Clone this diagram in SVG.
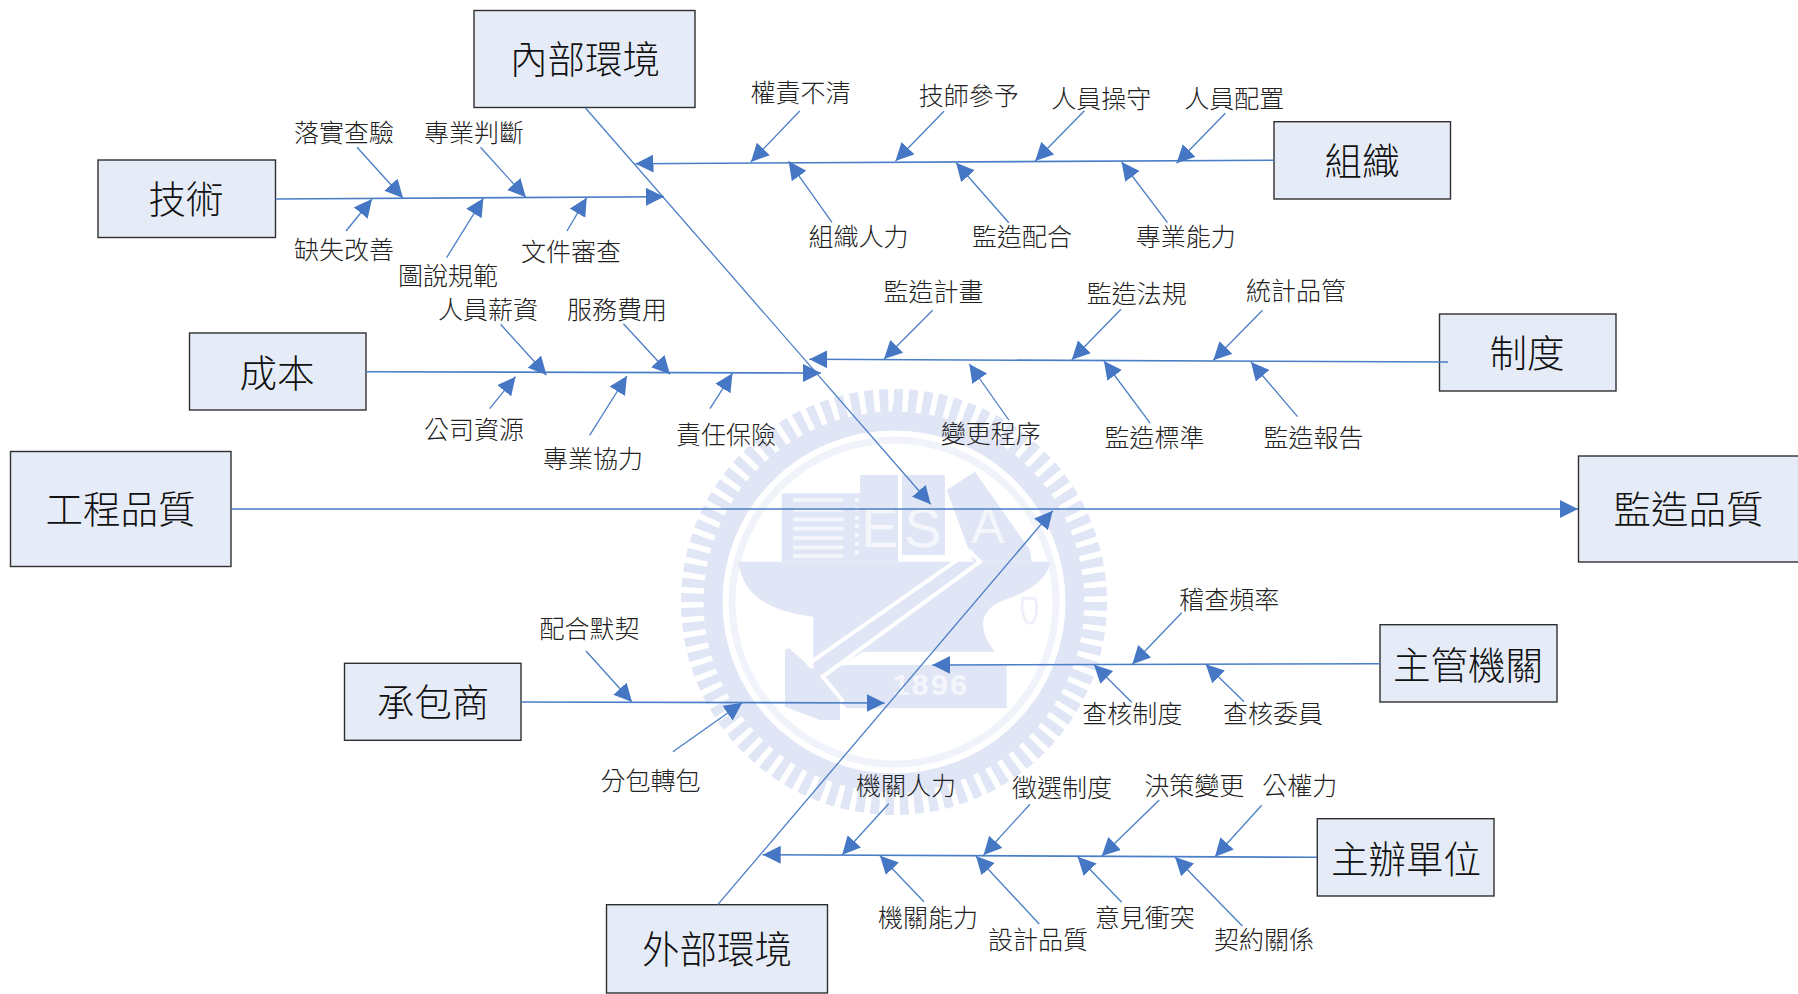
<svg xmlns="http://www.w3.org/2000/svg" width="1798" height="994" viewBox="0 0 1798 994">
<style>
.box{fill:#e6ecf7;stroke:#2f2f2f;stroke-width:1.4}
.n{font-family:"Noto Sans CJK TC","Noto Sans CJK SC",sans-serif;font-size:37.5px;fill:#111;text-anchor:middle;dominant-baseline:central;font-weight:300}
.t{font-family:"Noto Sans CJK TC","Noto Sans CJK SC",sans-serif;font-size:25px;fill:#222;text-anchor:middle;dominant-baseline:central;font-weight:300}
.m{fill:none;stroke:#4a7ec6;stroke-width:1.6;marker-end:url(#a)}
.r{fill:none;stroke:#4a7ec6;stroke-width:1.3;marker-end:url(#a)}
.w{fill:#e1e6f6}
.wl{fill:none;stroke:#fff;stroke-width:12}
.wt{font-family:"Liberation Sans",sans-serif;fill:#f4f6fc;text-anchor:middle}
</style>
<defs>
<marker id="a" markerUnits="userSpaceOnUse" markerWidth="20" markerHeight="20" refX="18" refY="9" orient="auto"><path d="M0,0L18,9L0,18Z" fill="#4677c4"/></marker>
</defs>
<rect width="1798" height="994" fill="#fff"/>
<g id="watermark">
<circle cx="894" cy="602" r="201" fill="none" stroke="#e1e6f6" stroke-width="24" pathLength="176" stroke-dasharray="1.2 .8"/>
<circle cx="894" cy="602" r="181" fill="none" stroke="#e1e6f6" stroke-width="19"/>
<circle cx="894" cy="602" r="162" fill="none" stroke="#f1f3fb" stroke-width="7"/>
<g transform="translate(730 460) scale(.3333)">
<rect class="w" x="155" y="100" width="190" height="205"/>
<path class="w" d="M345,305V100H390V45H505V305Z"/>
<rect class="w" x="515" y="45" width="130" height="240"/>
<path class="w" d="M650,90L735,35L900,270L905,305H730Z"/>
<path class="w" d="M25,305H960C950,370 880,400 800,430C760,455 735,500 795,575H400L250,660V470C100,450 40,400 25,305Z"/>
<path class="w" d="M165,570L185,560L240,625L355,615H830V745H350L330,720V780H270L165,740Z"/>
<path d="M190,120H340M190,150H340M190,178H340M190,206H340M190,234H340M190,262H340M190,288H340" fill="none" stroke="#f4f6fc" stroke-width="11"/>
<path d="M381,115V295" fill="none" stroke="#f4f6fc" stroke-width="12" stroke-dasharray="12 14"/>
<path d="M510,45V295H625" fill="none" stroke="#fff" stroke-width="11"/>
<path class="wl" d="M715,270L750,305L278,650L340,725"/>
<path class="wl" d="M718,275L238,610L175,555"/>
<path d="M880,415C870,440 880,490 900,490C920,490 925,440 915,415Z" fill="none" stroke="#eef1fa" stroke-width="9"/>
</g>
<text class="wt" x="880" y="547" font-size="56">E</text>
<text class="wt" x="923" y="547" font-size="56">S</text>
<text class="wt" x="988" y="543" font-size="50">A</text>
<text class="wt" x="931" y="695" font-size="30" font-weight="700" letter-spacing="2.5">1896</text>
</g>
<g id="n1"><rect class="box" x="474" y="10.5" width="221" height="97"/><text class="n" x="585" y="56">內部環境</text></g>
<g id="n2"><rect class="box" x="98" y="160" width="177.500" height="77.500"/><text class="n" x="186" y="196">技術</text></g>
<g id="n3"><rect class="box" x="189.500" y="333" width="176.500" height="77"/><text class="n" x="277" y="370">成本</text></g>
<g id="n4"><rect class="box" x="10.500" y="451.500" width="220.500" height="115"/><text class="n" x="120.500" y="506">工程品質</text></g>
<g id="n5"><rect class="box" x="1578.500" y="456" width="225" height="106"/><text class="n" x="1688.500" y="506">監造品質</text></g>
<g id="n6"><rect class="box" x="1274" y="121.700" width="176.500" height="77.300"/><text class="n" x="1362" y="158">組織</text></g>
<g id="n7"><rect class="box" x="1439.500" y="314" width="176.500" height="77"/><text class="n" x="1527" y="350">制度</text></g>
<g id="n8"><rect class="box" x="344.500" y="663.300" width="176.500" height="77"/><text class="n" x="433" y="699">承包商</text></g>
<g id="n9"><rect class="box" x="606.500" y="904.700" width="221" height="88.300"/><text class="n" x="717" y="946">外部環境</text></g>
<g id="n10"><rect class="box" x="1380" y="624.700" width="177" height="77.300"/><text class="n" x="1468" y="662">主管機關</text></g>
<g id="n11"><rect class="box" x="1317.300" y="818.700" width="176.700" height="77.300"/><text class="n" x="1406" y="856">主辦單位</text></g>
<g id="connectors">
<path class="m" d="M231,509H1578"/>
<path class="r" d="M585.5,108L930.7,504.3"/>
<path class="r" d="M717.8,904.7L1052.7,510.7"/>
<path class="m" d="M275.5,199L664,196.7"/>
<path class="m" d="M1274,160.3L635.5,163.7"/>
<path class="m" d="M366,371.7L821,373"/>
<path class="m" d="M1448,362L809.4,359.3"/>
<path class="m" d="M521,702L884.6,703"/>
<path class="m" d="M1380,663.7L932.3,665"/>
<path class="m" d="M1317,857.3L762.7,854.7"/>
<path class="r" d="M357,147.3L403,198"/>
<path class="r" d="M480.5,147.3L525.8,197.3"/>
<path class="r" d="M346,231L372,199"/>
<path class="r" d="M446.6,257.7L483.4,198.3"/>
<path class="r" d="M567,231L586.7,197.7"/>
<path class="r" d="M799.7,111L750.9,162"/>
<path class="r" d="M832,222.3L788.7,161.3"/>
<path class="r" d="M500.6,324.3L546.5,375"/>
<path class="r" d="M623.4,323.7L670,374.3"/>
<path class="r" d="M489.7,408.7L515.5,376.7"/>
<path class="r" d="M589.6,435.3L626.9,376"/>
<path class="r" d="M710,408.7L732.5,373.3"/>
<path class="r" d="M944,111.3L895.5,161"/>
<path class="r" d="M1084.4,110.7L1035.2,161"/>
<path class="r" d="M1225.3,113.3L1176.6,163.3"/>
<path class="r" d="M1008.8,222.7L956.1,162.7"/>
<path class="r" d="M1167.5,222.7L1121.6,162"/>
<path class="r" d="M932.6,310.3L884,359"/>
<path class="r" d="M1121,309.3L1071.8,359.7"/>
<path class="r" d="M1262.5,310.3L1213.3,360.3"/>
<path class="r" d="M1008.8,420L969.3,364"/>
<path class="r" d="M1150.3,423.3L1103.9,361"/>
<path class="r" d="M1297.5,416.7L1251,362"/>
<path class="r" d="M586,651L632,702"/>
<path class="r" d="M672.9,751.7L742.2,702.7"/>
<path class="r" d="M888.7,803.7L842.2,854.7"/>
<path class="r" d="M1030,804.3L983.6,855"/>
<path class="r" d="M923.9,901.7L880,855.7"/>
<path class="r" d="M1039.2,924L975.9,856"/>
<path class="r" d="M1181.7,612.7L1132.3,664.3"/>
<path class="r" d="M1131.7,702.3L1094,664.7"/>
<path class="r" d="M1244,701.7L1205.7,664.3"/>
<path class="r" d="M1159.3,800L1101.7,856"/>
<path class="r" d="M1261.7,805.3L1215,856.7"/>
<path class="r" d="M1121.7,902.3L1077.7,856.7"/>
<path class="r" d="M1242.3,926L1175,857"/>
</g>
<g id="labels">
<text class="t" x="344" y="131">落實查驗</text>
<text class="t" x="474" y="131">專業判斷</text>
<text class="t" x="344" y="248">缺失改善</text>
<text class="t" x="448" y="274">圖說規範</text>
<text class="t" x="571" y="250">文件審查</text>
<text class="t" x="800.500" y="91">權責不清</text>
<text class="t" x="858.500" y="235">組織人力</text>
<text class="t" x="488" y="308">人員薪資</text>
<text class="t" x="617" y="308">服務費用</text>
<text class="t" x="474" y="428">公司資源</text>
<text class="t" x="593" y="457">專業協力</text>
<text class="t" x="726" y="433">責任保險</text>
<text class="t" x="968.700" y="94">技師參予</text>
<text class="t" x="1101.300" y="97">人員操守</text>
<text class="t" x="1234.200" y="97">人員配置</text>
<text class="t" x="1021.900" y="235">監造配合</text>
<text class="t" x="1185.800" y="235">專業能力</text>
<text class="t" x="933.400" y="290">監造計畫</text>
<text class="t" x="1136.800" y="292">監造法規</text>
<text class="t" x="1296" y="288.500">統計品管</text>
<text class="t" x="990.800" y="432">變更程序</text>
<text class="t" x="1154.500" y="436">監造標準</text>
<text class="t" x="1313.500" y="436">監造報告</text>
<text class="t" x="589.400" y="627">配合默契</text>
<text class="t" x="650.400" y="779">分包轉包</text>
<text class="t" x="906" y="783.500">機關人力</text>
<text class="t" x="1062" y="786">徵選制度</text>
<text class="t" x="928" y="916">機關能力</text>
<text class="t" x="1038" y="938">設計品質</text>
<text class="t" x="1229.300" y="598">稽查頻率</text>
<text class="t" x="1132.300" y="712">查核制度</text>
<text class="t" x="1273" y="712">查核委員</text>
<text class="t" x="1194.300" y="783.500">決策變更</text>
<text class="t" x="1299.700" y="783.500">公權力</text>
<text class="t" x="1144.800" y="916">意見衝突</text>
<text class="t" x="1264" y="938">契約關係</text>
</g>
</svg>
